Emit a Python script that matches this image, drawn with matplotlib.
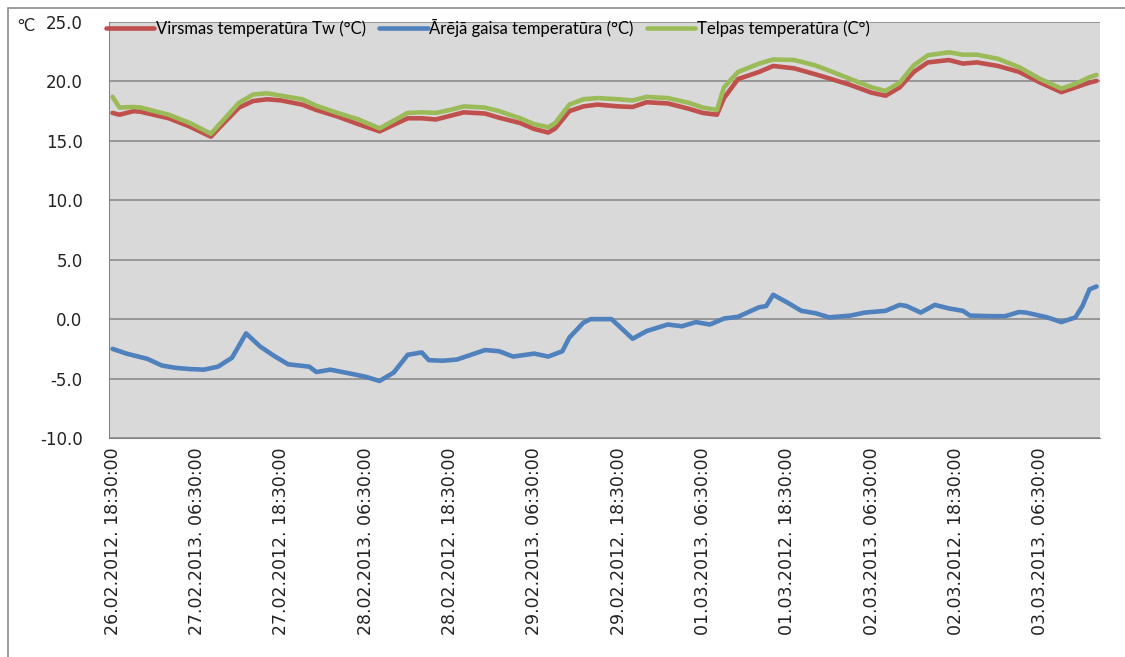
import numpy as np
import matplotlib
matplotlib.use("Agg")
import matplotlib.pyplot as plt
from matplotlib.patches import Rectangle

plt.rcParams['font.family'] = ['Lato', 'DejaVu Sans']

# hour index (0 = 26.02 18:30), one category per hour
n_hours = 141
tick_hours = [0, 12, 24, 36, 48, 60, 72, 84, 96, 108, 120, 132]
tick_labels = ["26.02.2012. 18:30:00", "27.02.2013. 06:30:00",
               "27.02.2012. 18:30:00", "28.02.2013. 06:30:00",
               "28.02.2012. 18:30:00", "29.02.2013. 06:30:00",
               "29.02.2012. 18:30:00", "01.03.2013. 06:30:00",
               "01.03.2012. 18:30:00", "02.03.2013. 06:30:00",
               "02.03.2012. 18:30:00", "03.03.2013. 06:30:00"]

# surface + room temperature, read at these hours
t_in = [0, 1, 3, 4, 8, 11, 14, 16, 18, 20, 22, 24, 27, 29, 32, 35, 38, 40, 42, 44,
        46, 48, 50, 53, 55, 58, 60, 62, 63, 65, 67, 69, 72, 74, 76, 79, 82, 84, 86, 87,
        89, 92, 94, 97, 100, 102, 105, 108, 110, 112, 114, 116, 119, 121, 123, 126,
        129, 132, 135, 137, 139, 140]
virsmas = [17.35, 17.2, 17.5, 17.45, 16.9, 16.2, 15.35, 16.6, 17.8, 18.35, 18.5, 18.4,
           18.05, 17.6, 17.05, 16.4, 15.8, 16.35, 16.9, 16.9, 16.8, 17.1, 17.4, 17.3,
           16.95, 16.5, 16.0, 15.7, 16.05, 17.5, 17.9, 18.05, 17.9, 17.85, 18.25, 18.15,
           17.7, 17.35, 17.2, 18.6, 20.2, 20.8, 21.3, 21.1, 20.6, 20.25, 19.7, 19.05,
           18.8, 19.5, 20.8, 21.6, 21.8, 21.5, 21.6, 21.3, 20.8, 19.9, 19.1, 19.5,
           19.9, 20.05]
telpas = [18.7, 17.8, 17.85, 17.8, 17.2, 16.5, 15.6, 16.9, 18.2, 18.9, 19.0, 18.8,
          18.5, 17.95, 17.35, 16.8, 16.05, 16.7, 17.35, 17.4, 17.35, 17.6, 17.9, 17.8,
          17.5, 16.9, 16.4, 16.15, 16.5, 18.05, 18.5, 18.6, 18.5, 18.4, 18.7, 18.6,
          18.2, 17.8, 17.6, 19.5, 20.8, 21.5, 21.85, 21.8, 21.35, 20.9, 20.2, 19.5,
          19.2, 19.9, 21.35, 22.2, 22.45, 22.25, 22.25, 21.9, 21.2, 20.2, 19.4, 19.8,
          20.35, 20.55]

# outside air temperature
t_out = [0, 2, 5, 7, 9, 11, 13, 15, 17, 19, 21, 23, 25, 28, 29, 31, 34, 36, 38, 40,
         42, 44, 45, 47, 49, 51, 53, 55, 57, 60, 62, 64, 65, 67, 68, 69, 71, 74, 76,
         79, 81, 83, 85, 87, 89, 92, 93, 94, 96, 98, 100, 102, 105, 107, 110, 112,
         113, 115, 117, 119, 121, 122, 125, 127, 129, 130, 133, 135, 137, 138, 139, 140]
areja = [-2.5, -2.9, -3.35, -3.9, -4.1, -4.2, -4.25, -4.0, -3.25, -1.2, -2.3, -3.1,
         -3.8, -4.0, -4.45, -4.25, -4.6, -4.85, -5.2, -4.5, -3.0, -2.8, -3.45, -3.5,
         -3.4, -3.0, -2.6, -2.7, -3.15, -2.9, -3.15, -2.7, -1.55, -0.3, 0.0, 0.0,
         0.0, -1.65, -1.0, -0.45, -0.6, -0.25, -0.45, 0.05, 0.2, 1.0, 1.1, 2.05,
         1.4, 0.7, 0.5, 0.15, 0.3, 0.55, 0.7, 1.2, 1.1, 0.55, 1.2, 0.9, 0.7, 0.3,
         0.25, 0.25, 0.6, 0.55, 0.15, -0.25, 0.15, 1.1, 2.5, 2.75]

fig = plt.figure(figsize=(11.25, 6.57), dpi=100)
ax = fig.add_axes([109 / 1125, 1 - 438 / 657, (1100 - 109) / 1125, (438 - 22) / 657])
ax.set_facecolor('#d9d9d9')

ax.plot(t_in, virsmas, color='#c0504d', lw=3.3, solid_capstyle='round',
        solid_joinstyle='round', label='Virsmas temperatūra Tw (°C)')
ax.plot(t_out, areja, color='#4f81bd', lw=3.3, solid_capstyle='round',
        solid_joinstyle='round', label='Ārējā gaisa temperatūra (°C)')
ax.plot(t_in, telpas, color='#9bbb59', lw=3.3, solid_capstyle='round',
        solid_joinstyle='round', label='Telpas temperatūra (C°)')

ax.set_xlim(-0.5, n_hours - 0.5)
ax.set_ylim(-10, 25)
ax.set_yticks(np.arange(-10, 26, 5))
ax.set_yticklabels([f"{v:.1f}" for v in np.arange(-10, 26, 5)],
                   family=['DejaVu Sans'], fontsize=12)
ax.set_xticks(tick_hours)
ax.set_xticklabels(tick_labels, rotation=90, va='top', ha='center',
                   family=['DejaVu Sans'], fontsize=12.5)
ax.tick_params(length=0, labelcolor='#222222')
ax.tick_params(axis='y', pad=19)
ax.tick_params(axis='x', pad=7)

ax.grid(axis='y', color='#858585', lw=1.1)
ax.set_axisbelow(True)
for s in ['top', 'right']:
    ax.spines[s].set_visible(False)
ax.spines['left'].set_color('#858585')
ax.spines['bottom'].set_color('#858585')

ax.legend(loc='center left', bbox_to_anchor=(-0.003, 0.985), ncol=3, frameon=False,
          fontsize=12, handlelength=2.9, handletextpad=0.1, columnspacing=0.8,
          borderaxespad=0, borderpad=0)

fig.text(17 / 1125, 1 - 26 / 657, '°C', fontsize=12, va='center', ha='left',
         color='#222222')

# chart frame
fig.patches.append(Rectangle((8 / 1125, -0.05), 1.2, 1 - 8 / 657 + 0.05,
                             transform=fig.transFigure, fill=False,
                             edgecolor='#8c8c8c', lw=1.2))

fig.savefig('out.png', dpi=100)
